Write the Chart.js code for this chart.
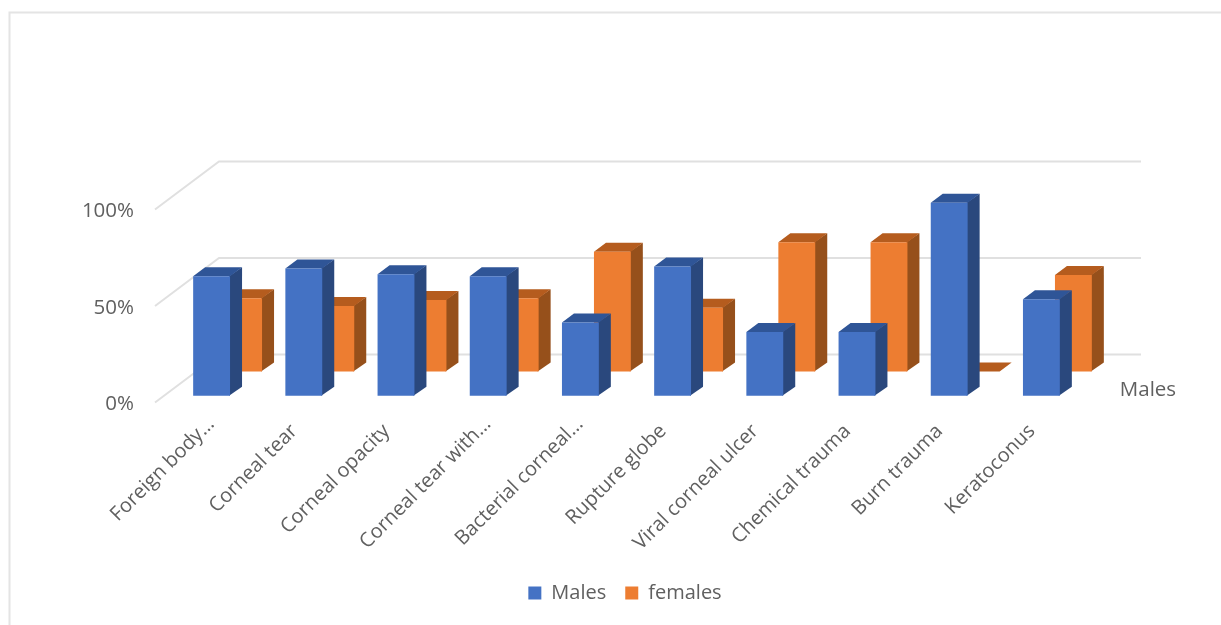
<!DOCTYPE html>
<html>
<head>
<meta charset="utf-8">
<style>
  html, body { margin: 0; padding: 0; background: #fff; }
  #wrap { width: 1221px; height: 625px; position: relative; overflow: hidden; }
</style>
<script src="https://cdn.jsdelivr.net/npm/chart.js@4"></script>
</head>
<body>
<div id="wrap"><canvas id="chart" width="1221" height="625"></canvas></div>
<script>
const categories = ['Foreign body…', 'Corneal tear', 'Corneal opacity', 'Corneal tear with…',
  'Bacterial corneal…', 'Rupture globe', 'Viral corneal ulcer', 'Chemical trauma', 'Burn trauma', 'Keratoconus'];
const males = [62, 66, 63, 62, 38, 67, 33, 33, 100, 50];
const females = [38, 34, 37, 38, 62, 33, 67, 67, 0, 50];
const yTicks = [0, 50, 100];

const FONT = '"Open Sans", sans-serif';
const TEXT = '#606060';
const GRID = '#e0e0e0';

// Shading of each column: front, top and side faces, plus where it sits in depth.
const faces = [
  { front: '#4472C4', top: '#2F5597', side: '#2A487D', dx: 10.5, dy: -6.7 },
  { front: '#ED7D31', top: '#B55C1E', side: '#96501B', dx: 42.5, dy: -31 }
];
const BAR_DX = 12, BAR_DY = -9;      // extrusion of a column
const WALL_DX = 64, WALL_DY = -48;   // depth of the floor and side wall

function poly(ctx, color, pts) {
  ctx.fillStyle = color;
  ctx.beginPath();
  pts.forEach((p, i) => i ? ctx.lineTo(p[0], p[1]) : ctx.moveTo(p[0], p[1]));
  ctx.closePath();
  ctx.fill();
}

const frame3d = {
  id: 'frame3d',
  // Shortened labels sit a little further along their slant than the full ones.
  afterLayout(chart) {
    const xScale = chart.scales.x;
    xScale.getLabelItems(chart.chartArea).forEach(item => {
      if (String(item.label).endsWith('…')) {
        item.options.translation[0] += 9;
        item.options.translation[1] -= 7;
      }
    });
  },
  beforeDraw(chart) {
    const { ctx, width, height } = chart;
    ctx.save();
    ctx.strokeStyle = '#e4e4e4';
    ctx.lineWidth = 2;
    ctx.beginPath();
    ctx.moveTo(9.5, height);
    ctx.lineTo(9.5, 12.5);
    ctx.lineTo(width, 12.5);
    ctx.stroke();
    ctx.restore();
  },
  beforeDatasetsDraw(chart) {
    const { ctx, chartArea, scales } = chart;
    ctx.save();
    ctx.strokeStyle = GRID;
    ctx.lineWidth = 2;
    yTicks.forEach(v => {
      const y = scales.y.getPixelForValue(v);
      ctx.beginPath();
      ctx.moveTo(chartArea.left, y);
      ctx.lineTo(chartArea.left + WALL_DX, y + WALL_DY);
      ctx.lineTo(chartArea.right + WALL_DX, y + WALL_DY);
      ctx.stroke();
    });
    // Name of the depth axis, next to the front row of columns.
    ctx.fillStyle = TEXT;
    ctx.font = '20.5px ' + FONT;
    ctx.textAlign = 'center';
    ctx.textBaseline = 'middle';
    ctx.fillText(chart.data.datasets[0].label, chartArea.right + 71, 390);
    ctx.restore();
  },
  // Replaces the flat rectangles with extruded columns at the element's own coordinates.
  beforeDatasetDraw(chart, args) {
    const { ctx } = chart;
    const f = faces[args.index];
    ctx.save();
    chart.getDatasetMeta(args.index).data.forEach(el => {
      const { x, y, base, width } = el.getProps(['x', 'y', 'base', 'width'], true);
      const l = x - width / 2 + f.dx, r = x + width / 2 + f.dx;
      const t = y + f.dy, b = base + f.dy;
      // Side and top run slightly under the front face so no seam shows between them.
      poly(ctx, f.side, [[r - 1, t], [r + BAR_DX, t + BAR_DY], [r + BAR_DX, b + BAR_DY], [r - 1, b]]);
      poly(ctx, f.top, [[l, t], [l + BAR_DX, t + BAR_DY], [r + BAR_DX, t + BAR_DY], [r, t]]);
      if (b > t) poly(ctx, f.front, [[l, t], [r, t], [r, b], [l, b]]);
    });
    ctx.restore();
    return false;
  }
};

new Chart(document.getElementById('chart'), {
  type: 'bar',
  data: {
    labels: categories,
    datasets: [
      { label: 'Males', data: males, backgroundColor: faces[0].front },
      { label: 'females', data: females, backgroundColor: faces[1].front }
    ]
  },
  plugins: [frame3d],
  options: {
    responsive: false,
    animation: false,
    events: [],
    grouped: false,
    categoryPercentage: 1,
    barPercentage: 0.4,
    layout: { autoPadding: false, padding: { left: 29, right: 0, top: 209.5, bottom: 12 } },
    scales: {
      x: {
        grid: { display: false },
        border: { display: false },
        afterFit(s) { s.height = 161.5; },
        ticks: {
          autoSkip: false, minRotation: 45, maxRotation: 45, labelOffset: 1, padding: 9,
          color: TEXT, font: { family: FONT, size: 20 }
        }
      },
      y: {
        min: 0, max: 100,
        grid: { display: false },
        border: { display: false },
        afterFit(s) { s.width = 126; },
        afterBuildTicks(s) { s.ticks = yTicks.map(value => ({ value })); },
        ticks: {
          padding: 13, labelOffset: 2, color: TEXT, font: { family: FONT, size: 20.5 },
          callback: v => v + '%'
        }
      },
      gutter: {
        position: 'right',
        display: true,
        grid: { display: false },
        border: { display: false },
        ticks: { display: false },
        afterFit(s) { s.width = 144; }
      }
    },
    plugins: {
      tooltip: { enabled: false },
      legend: {
        position: 'bottom',
        labels: {
          boxWidth: 13, boxHeight: 13, padding: 19,
          color: TEXT, font: { family: FONT, size: 20 }
        }
      }
    }
  }
});
</script>
</body>
</html>
